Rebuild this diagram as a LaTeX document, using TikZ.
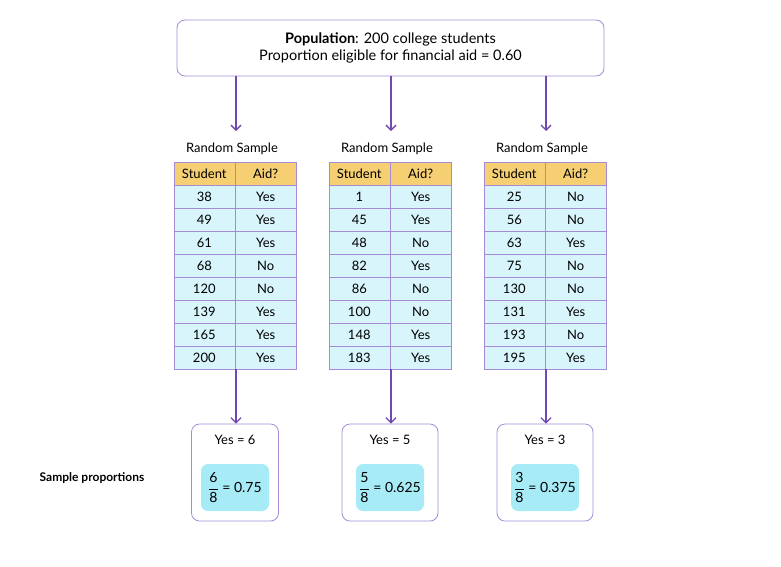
\documentclass[tikz,border=0pt]{standalone}
\usepackage{amsmath}
\usepackage{fontspec}
\setmainfont{Lato}
\usetikzlibrary{arrows.meta,positioning}
\definecolor{boxline}{HTML}{A58BD6}
\definecolor{arrowc}{HTML}{7048B0}
\definecolor{headfill}{HTML}{F5CF72}
\definecolor{cellfill}{HTML}{D8F5FB}
\definecolor{propfill}{HTML}{A6EBF6}
\tikzset{
  cell/.style={draw=boxline, fill=cellfill, minimum width=61pt, minimum height=23pt, inner sep=0pt, font=\fontsize{13}{15}\selectfont},
  headcell/.style={cell, fill=headfill},
  pbox/.style={draw=boxline, rounded corners=8pt, line width=0.8pt},
  arr/.style={-{Straight Barb[length=5pt,width=10pt]}, draw=arrowc, line width=1.3pt}
}
\begin{document}
\begin{tikzpicture}[x=1pt, y=-1pt]
\useasboundingbox (0,0) rectangle (781,566);
\node[pbox, minimum width=427pt, minimum height=56pt, align=center, font=\fontsize{14.5}{17}\selectfont] (pop) at (390.5,48)
  {\textbf{Population}: 200 college students\\Proportion eligible for financial aid = 0.60};
\node[font=\bfseries\fontsize{12}{14}\selectfont] (spl) at (92,478) {Sample proportions};
% three samples
\foreach \t/\x/\data/\yes/\num/\val/\bw in {
  1/235/{38/Yes,49/Yes,61/Yes,68/No,120/No,139/Yes,165/Yes,200/Yes}/6/6/0.75/87,
  2/390/{1/Yes,45/Yes,48/No,82/Yes,86/No,100/No,148/Yes,183/Yes}/5/5/0.625/96,
  3/545/{25/No,56/No,63/Yes,75/No,130/No,131/Yes,193/No,195/Yes}/3/3/0.375/96}{
  \node[font=\fontsize{13}{15}\selectfont] (rs\t) at (\x-3,149) {Random Sample};
  \node[headcell, anchor=east] (t\t h1) at (\x,173.5) {Student};
  \node[headcell, anchor=west] (t\t h2) at (\x,173.5) {Aid?};
  \foreach \s/\a [count=\r] in \data {
    \node[cell, anchor=east] (t\t r\r a) at (\x,173.5+23*\r) {\s};
    \node[cell, anchor=west] (t\t r\r b) at (\x,173.5+23*\r) {\a};
  }
  \coordinate (top\t) at (\x+1,76);
  \coordinate (tin\t) at (\x+1,131);
  \draw[arr] (top\t) -- (tin\t);
  \node[pbox, minimum width=\bw pt, minimum height=97pt] (sb\t) at (\x,472.5) {};
  \node[font=\fontsize{13}{15}\selectfont, below=8pt of sb\t.north] (yes\t) {Yes = \yes};
  \node[fill=propfill, rounded corners=7pt, minimum width=68pt, minimum height=47pt, inner sep=0pt, font=\fontsize{14}{16}\selectfont] (pr\t) at (\x,487.5)
    {$\dfrac{\text{\num}}{\text{8}}$ = \val};
  \coordinate (tout\t) at (\x+1,369);
  \draw[arr] (tout\t) -- (sb\t.north -| tout\t);
}
\end{tikzpicture}
\end{document}
